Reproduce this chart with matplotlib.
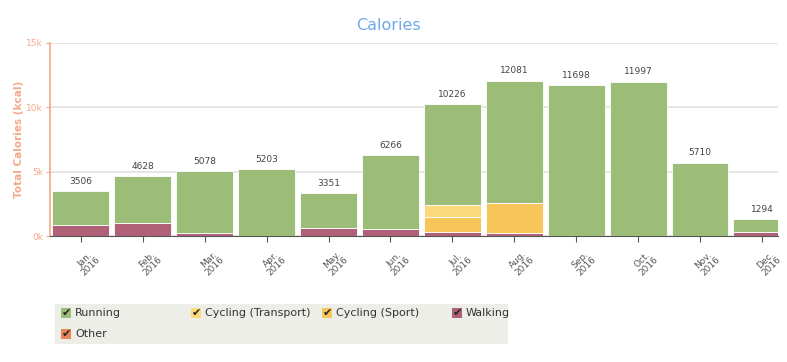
import numpy as np
import matplotlib.pyplot as plt
import matplotlib.transforms as mtransforms
from matplotlib.patches import Rectangle

months = ["Jan.", "Feb.", "Mar.", "Apr.", "May.", "Jun.", "Jul.", "Aug.", "Sep.", "Oct.", "Nov.", "Dec."]
year = "2016"
totals = [3506, 4628, 5078, 5203, 3351, 6266, 10226, 12081, 11698, 11997, 5710, 1294]
walking = [830, 990, 210, 0, 620, 550, 290, 210, 0, 0, 0, 290]
cycling_sport = [0, 0, 0, 0, 0, 0, 1220, 2390, 0, 0, 0, 0]
cycling_transport = [0, 0, 0, 0, 0, 0, 910, 0, 0, 0, 0, 0]
other = [0] * 12
running = [t - w - s - c - o for t, w, s, c, o in zip(totals, walking, cycling_sport, cycling_transport, other)]

c_run = "#9bbd78"
c_trans = "#fcd97a"
c_sport = "#f6c65b"
c_walk = "#b06077"
c_other = "#e8835a"
orange = "#f5a88a"

fig = plt.figure(figsize=(7.87, 3.62), dpi=100)
ax = fig.add_axes([50 / 787, 1 - 236 / 362, 728 / 787, 193 / 362])

x = np.arange(len(months))
w = 0.92
bottom = np.zeros(len(months))
for vals, col in [(other, c_other), (walking, c_walk), (cycling_sport, c_sport),
                  (cycling_transport, c_trans), (running, c_run)]:
    ax.bar(x, vals, w, bottom=bottom, color=col, edgecolor="white", linewidth=0.6, zorder=3)
    bottom += np.array(vals)

for i, t in enumerate(totals):
    ax.text(x[i], t + 400, str(t), ha="center", va="bottom", fontsize=6.5, color="#444444")

ax.set_xlim(-0.5, 11.26)
ax.set_ylim(0, 15000)
ax.set_yticks([0, 5000, 10000, 15000])
ax.set_yticklabels(["0k", "5k", "10k", "15k"], fontsize=6.5, color=orange)
ax.tick_params(axis="y", length=3, color=orange, pad=2)
ax.grid(axis="y", color="#e3e3dd", linewidth=1.2, zorder=0)
ax.set_xticks(x)
ax.set_xticklabels([m + "\n" + year for m in months], rotation=45, fontsize=6.5,
                   color="#555555", ha="center", va="top", linespacing=1.0)
ax.tick_params(axis="x", length=4, color="#555555", pad=5)
shift = mtransforms.ScaledTranslation(7 / 100, 0, fig.dpi_scale_trans)
for lab in ax.get_xticklabels():
    lab.set_transform(lab.get_transform() + shift)
for s in ["top", "right"]:
    ax.spines[s].set_visible(False)
ax.spines["left"].set_color(orange)
ax.spines["left"].set_linewidth(1.2)
ax.spines["bottom"].set_color("#555555")
ax.set_ylabel("Total Calories (kcal)", color=orange, fontsize=7.5, fontweight="bold", labelpad=2)

fig.text(388 / 787, 1 - 25 / 362, "Calories", ha="center", va="center", fontsize=11.5, color="#6fa8e8")

# legend box
fig.patches.append(Rectangle((55 / 787, 1 - 344 / 362), 453 / 787, 40 / 362,
                             transform=fig.transFigure, facecolor="#eeeee8", edgecolor="none"))
items = [("Running", c_run, 61, 313), ("Cycling (Transport)", c_trans, 191, 313),
         ("Cycling (Sport)", c_sport, 322, 313), ("Walking", c_walk, 452, 313),
         ("Other", c_other, 61, 334)]
for label, col, px, py in items:
    fig.patches.append(Rectangle((px / 787, 1 - (py + 5) / 362), 10 / 787, 10 / 362,
                                 transform=fig.transFigure, facecolor=col, edgecolor="none"))
    fig.text((px + 5) / 787, 1 - py / 362, "\u2714", ha="center", va="center", fontsize=8, color="#222222")
    fig.text((px + 14) / 787, 1 - py / 362, label, ha="left", va="center", fontsize=8, color="#333333")

fig.savefig("out.png", dpi=100)
